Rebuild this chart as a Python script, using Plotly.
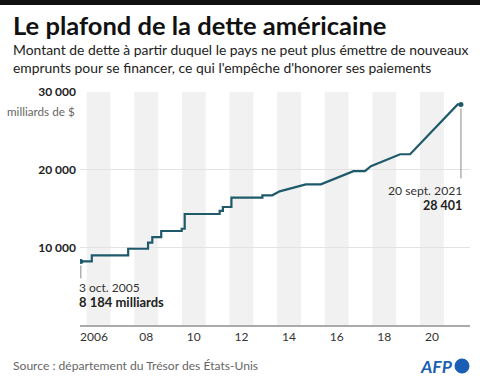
import plotly.graph_objects as go

# ---- data ----
dates = ["2005-10-03", "2006-03-20", "2007-09-29", "2008-07-30", "2008-10-03",
         "2009-02-17", "2009-12-28", "2010-02-12", "2011-08-02", "2011-09-21",
         "2012-01-30", "2013-05-19", "2013-10-17", "2014-02-08", "2015-03-16",
         "2015-11-02", "2017-03-16", "2017-09-08", "2017-12-09", "2019-03-02",
         "2019-08-02", "2021-08-01", "2021-09-20"]
values = [8184, 8965, 9815, 10615, 11315, 12104, 12394, 14294, 14694, 15194,
          16394, 16699, 16699, 17212, 18113, 18113, 19809, 19809, 20456, 21988,
          21988, 28401, 28401]
# how each point is reached from the previous one
transition = ["", "step", "step", "step", "step", "step", "step", "step", "step", "step",
              "step", "step", "flat", "ramp", "ramp", "flat", "ramp", "flat", "ramp", "ramp",
              "flat", "ramp", "flat"]
shaded_years = [2006, 2008, 2010, 2012, 2014, 2016, 2018, 2020]
tick_years = [2006, 2008, 2010, 2012, 2014, 2016, 2018, 2020]
tick_labels = ["2006&nbsp;&nbsp;&nbsp;", "08", "10", "12", "14", "16", "18", "20"]
y_ticks = [10000, 20000, 30000]
y_tick_labels = ["10 000", "20 000", "30 000"]

# ---- build step/ramp path ----
xs, ys = [dates[0]], [values[0]]
for i in range(1, len(dates)):
    if transition[i] == "step":
        xs.append(dates[i]); ys.append(values[i - 1])
    xs.append(dates[i]); ys.append(values[i])

W, H = 480, 383
L, R, T, B = 80, 10, 92, 58
PW, PH = W - L - R, H - T - B

def px(x):
    return (x - L) / PW

def py(y):
    return (H - B - y) / PH

LINE = "#1f5a6b"
FONT = "Lato"

fig = go.Figure()
fig.add_trace(go.Scatter(x=xs, y=ys, mode="lines",
                         line=dict(color=LINE, width=2.2), hoverinfo="skip"))
fig.add_trace(go.Scatter(x=[dates[0], dates[-1]], y=[values[0], values[-1]],
                         mode="markers", marker=dict(color=LINE, size=5),
                         hoverinfo="skip"))

shapes = [
    # top black bar
    dict(type="rect", xref="paper", yref="paper", x0=px(0), x1=px(W),
         y0=py(0), y1=py(5), fillcolor="#111111", line_width=0),
]
for yr in shaded_years:
    shapes.append(dict(type="rect", xref="x", yref="paper",
                       x0=f"{yr}-01-01", x1=f"{yr + 1}-01-01", y0=0, y1=1,
                       fillcolor="#f1f1f1", line_width=0, layer="below"))
# leader lines
shapes.append(dict(type="line", xref="x", yref="y", ysizemode="pixel",
                   x0=dates[0], x1=dates[0], yanchor=values[0], y0=-4, y1=-17,
                   line=dict(color="#888", width=1)))
shapes.append(dict(type="line", xref="x", yref="y", ysizemode="pixel",
                   x0=dates[-1], x1=dates[-1], yanchor=values[-1], y0=-4, y1=-74,
                   line=dict(color="#888", width=1)))
# AFP circle
shapes.append(dict(type="circle", xref="paper", yref="paper",
                   x0=px(454.5), x1=px(469.5), y0=py(358.5), y1=py(373.5),
                   fillcolor="#1a5fb4", line_width=0))

ann = []
ann.append(dict(text="<b>Le plafond de la dette américaine</b>", xref="paper", yref="paper",
                x=px(11), y=py(24.5), xanchor="left", yanchor="middle", showarrow=False,
                font=dict(family=FONT, size=25.5, color="#111")))
ann.append(dict(text="Montant de dette à partir duquel le pays ne peut plus émettre de nouveaux",
                xref="paper", yref="paper", x=px(11), y=py(49.5), xanchor="left",
                yanchor="middle", showarrow=False,
                font=dict(family=FONT, size=13.9, color="#222")))
ann.append(dict(text="emprunts pour se financer, ce qui l'empêche d'honorer ses paiements",
                xref="paper", yref="paper", x=px(11), y=py(68), xanchor="left",
                yanchor="middle", showarrow=False,
                font=dict(family=FONT, size=13.9, color="#222")))
ann.append(dict(text="milliards de $", xref="paper", yref="y", x=0, xshift=-3,
                y=y_ticks[-1], yshift=-19, xanchor="right", yanchor="middle",
                showarrow=False, font=dict(family=FONT, size=11.7, color="#666")))
ann.append(dict(text="3 oct. 2005", xref="x", yref="y", x=dates[0], xshift=-4,
                y=values[0], yshift=-26, xanchor="left", yanchor="middle",
                showarrow=False, font=dict(family=FONT, size=12, color="#333")))
ann.append(dict(text="<b>8 184 milliards</b>", xref="x", yref="y", x=dates[0], xshift=-4,
                y=values[0], yshift=-40.5, xanchor="left", yanchor="middle",
                showarrow=False, font=dict(family=FONT, size=13, color="#222")))
ann.append(dict(text="20 sept. 2021", xref="x", yref="y", x=dates[-1], xshift=3,
                y=values[-1], yshift=-86, xanchor="right", yanchor="middle",
                showarrow=False, font=dict(family=FONT, size=12.2, color="#333")))
ann.append(dict(text="<b>28 401</b>", xref="x", yref="y", x=dates[-1], xshift=3,
                y=values[-1], yshift=-101.5, xanchor="right", yanchor="middle",
                showarrow=False, font=dict(family=FONT, size=12.5, color="#222")))
ann.append(dict(text="Source : département du Trésor des États-Unis", xref="paper",
                yref="paper", x=px(11), y=py(365), xanchor="left", yanchor="middle",
                showarrow=False, font=dict(family=FONT, size=12.1, color="#666")))
ann.append(dict(text="<b><i>AFP</i></b>", xref="paper", yref="paper", x=px(455),
                y=py(366), xanchor="right", yanchor="middle", showarrow=False,
                font=dict(family=FONT, size=17.5, color="#1a5fb4")))

fig.update_layout(
    width=W, height=H, margin=dict(l=L, r=R, t=T, b=B),
    paper_bgcolor="white", plot_bgcolor="white", showlegend=False,
    shapes=shapes, annotations=ann,
    xaxis=dict(type="date", range=["2005-09-20", "2022-02-06"],
               tickvals=[f"{y}-07-02" for y in tick_years], ticktext=tick_labels,
               showgrid=False, showline=True, linecolor="#aaa", linewidth=1.5,
               ticks="", tickfont=dict(family=FONT, size=12, color="#333"),
               fixedrange=True),
    yaxis=dict(range=[0, 30000], tickvals=y_ticks,
               ticktext=[f"<b>{t}</b>" for t in y_tick_labels],
               showgrid=True, gridcolor="#e3e3e3", gridwidth=1, zeroline=False,
               ticks="", ticklabelstandoff=3,
               tickfont=dict(family=FONT, size=12, color="#222"), fixedrange=True),
)
fig.write_html("out.html", config={"displayModeBar": False},
               post_script="document.body.style.margin='0';document.body.style.overflow='hidden';")
